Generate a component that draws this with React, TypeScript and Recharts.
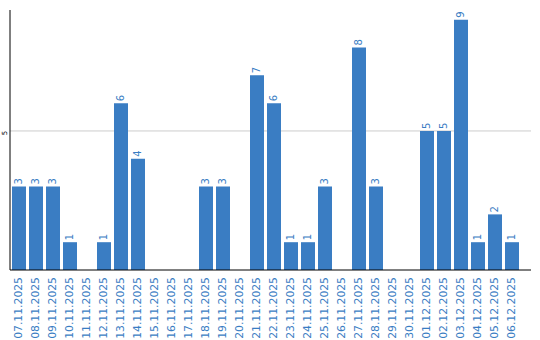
import React from 'react';
import { BarChart, Bar, XAxis, YAxis, CartesianGrid, LabelList } from 'recharts';

const dates = [
    '07.11.2025', '08.11.2025', '09.11.2025', '10.11.2025', '11.11.2025', '12.11.2025',
    '13.11.2025', '14.11.2025', '15.11.2025', '16.11.2025', '17.11.2025', '18.11.2025',
    '19.11.2025', '20.11.2025', '21.11.2025', '22.11.2025', '23.11.2025', '24.11.2025',
    '25.11.2025', '26.11.2025', '27.11.2025', '28.11.2025', '29.11.2025', '30.11.2025',
    '01.12.2025', '02.12.2025', '03.12.2025', '04.12.2025', '05.12.2025', '06.12.2025'
];
const counts = [3, 3, 3, 1, 0, 1, 6, 4, 0, 0, 0, 3, 3, 0, 7, 6, 1, 1, 3, 0, 8, 3, 0, 0, 5, 5, 9, 1, 2, 1];
const yTicks = [5];

const BLUE = '#3a7dc3';
const FONT = '"DejaVu Sans", sans-serif';

const data = dates.map((date, i) => ({ date, count: counts[i] }));

// tick y from recharts sits ~8px under the axis line; pull it back up
const DateTick = ({ x, y, payload }: any) => {
    const ty = y - 1;
    return (
        <text
            x={x}
            y={ty}
            transform={`rotate(-90, ${x}, ${ty})`}
            textAnchor="end"
            dy="0.35em"
            fill={BLUE}
            fontSize={10.8}
            fontFamily={FONT}
        >
            {payload.value}
        </text>
    );
};

const ValueTick = ({ y, payload }: any) => (
    <text
        x={5}
        y={y + 2}
        transform={`rotate(-90, 5, ${y + 2})`}
        textAnchor="middle"
        dy="0.35em"
        fill="#000"
        fontSize={7}
        fontFamily={FONT}
    >
        {payload.value}
    </text>
);

const BarValue = ({ x, y, width, value }: any) => {
    if (!value) return null;
    const cx = x + width / 2;
    const ty = y - 2;
    return (
        <text
            x={cx}
            y={ty}
            transform={`rotate(-90, ${cx}, ${ty})`}
            textAnchor="start"
            dy="0.35em"
            fill={BLUE}
            fontSize={10}
            fontFamily={FONT}
        >
            {value}
        </text>
    );
};

export default function App() {
    return (
        <div style={{ position: 'absolute', left: 0, top: 0, width: 540, height: 340, background: '#fff' }}>
            <BarChart
                width={540}
                height={340}
                data={data}
                margin={{ top: 10, right: 9, left: 0, bottom: 0 }}
                barSize={14}
            >
                <CartesianGrid vertical={false} stroke="#cccccc" horizontalValues={yTicks} />
                <XAxis
                    dataKey="date"
                    interval={0}
                    height={70}
                    padding={{ left: 0, right: 11 }}
                    axisLine={{ stroke: '#000' }}
                    tickLine={false}
                    tick={<DateTick />}
                />
                <YAxis
                    width={10}
                    domain={[0, 9.35]}
                    ticks={yTicks}
                    axisLine={{ stroke: '#000' }}
                    tickLine={false}
                    tick={<ValueTick />}
                />
                <Bar dataKey="count" fill={BLUE} isAnimationActive={false}>
                    <LabelList dataKey="count" content={<BarValue />} />
                </Bar>
            </BarChart>
        </div>
    );
}
